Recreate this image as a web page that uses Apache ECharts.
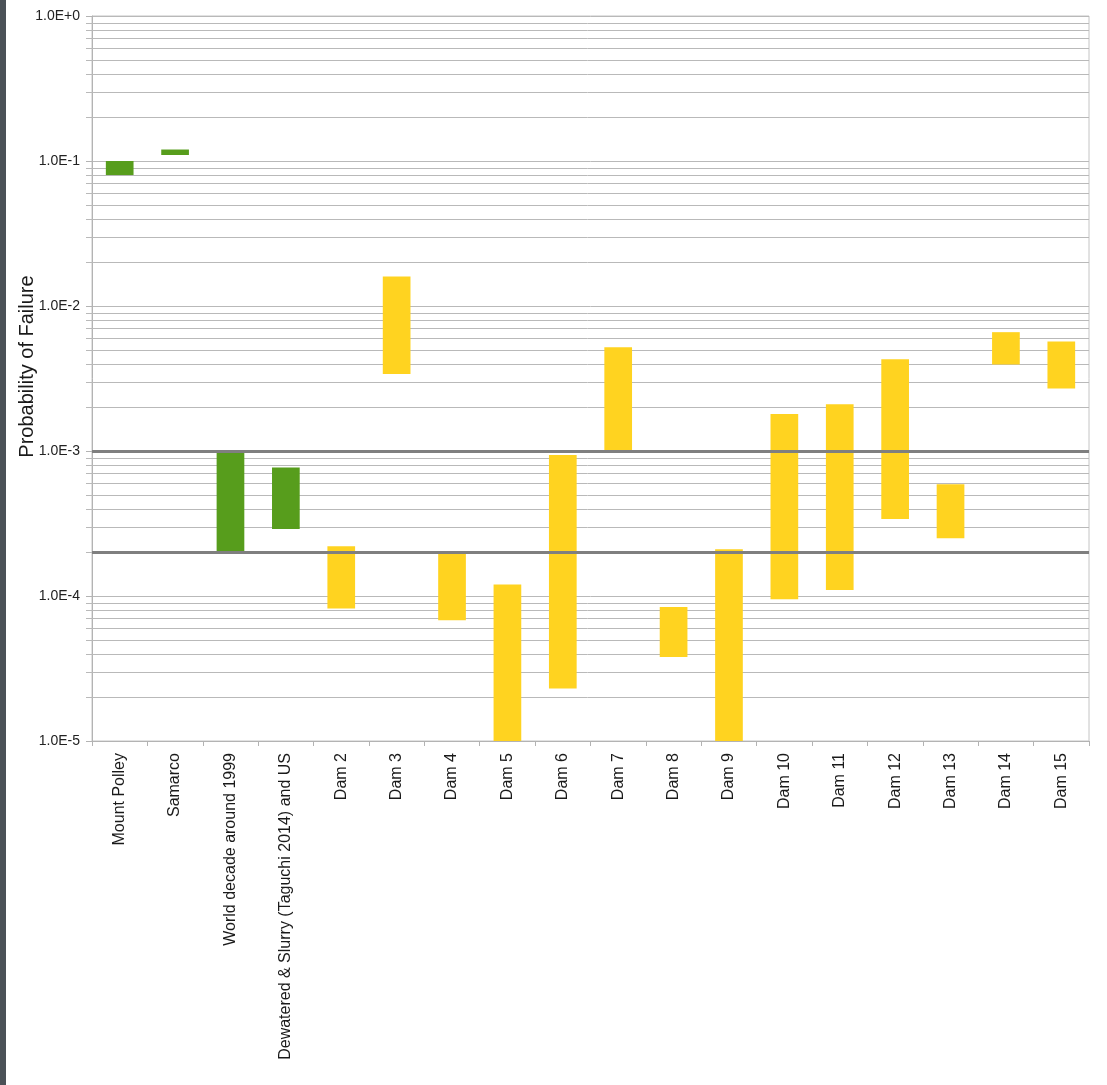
<!DOCTYPE html>
<html>
<head>
<meta charset="utf-8">
<title>Probability of Failure</title>
<script src="https://cdn.jsdelivr.net/npm/echarts@6/dist/echarts.min.js"></script>
<style>
  html, body { margin: 0; padding: 0; background: #ffffff; }
  #wrap { position: relative; width: 1107px; height: 1085px; }
  #strip { position: absolute; left: 0; top: 0; width: 6px; height: 1085px; background: #4b5157; z-index: 2; }
  #chart { position: absolute; left: 0; top: 0; width: 1107px; height: 1085px; }
</style>
</head>
<body>
<div id="wrap">
  <div id="chart"></div>
  <div id="strip"></div>
</div>
<script>
// Categories along the x axis
const categories = [
  'Mount Polley', 'Samarco', 'World decade around 1999',
  'Dewatered & Slurry (Taguchi 2014) and US',
  'Dam 2', 'Dam 3', 'Dam 4', 'Dam 5', 'Dam 6', 'Dam 7', 'Dam 8', 'Dam 9',
  'Dam 10', 'Dam 11', 'Dam 12', 'Dam 13', 'Dam 14', 'Dam 15'
];

// Lower and upper bound of the probability of failure per category
const lowValues = [
  0.08, 0.11, 2.0e-4, 2.9e-4,
  8.2e-5, 3.4e-3, 6.8e-5, 1.0e-5, 2.3e-5, 1.0e-3, 3.8e-5, 1.0e-5,
  9.5e-5, 1.1e-4, 3.4e-4, 2.5e-4, 3.95e-3, 2.7e-3
];
const highValues = [
  0.10, 0.12, 1.0e-3, 7.7e-4,
  2.2e-4, 1.6e-2, 2.0e-4, 1.2e-4, 9.4e-4, 5.2e-3, 8.4e-5, 2.1e-4,
  1.8e-3, 2.1e-3, 4.3e-3, 5.9e-4, 6.6e-3, 5.7e-3
];

// Group of each category: 0 = reference cases, 1 = individual dams
const groups = [0, 0, 0, 0, 1, 1, 1, 1, 1, 1, 1, 1, 1, 1, 1, 1, 1, 1];
const groupColors = ['#579d1c', '#ffd320'];

// Tolerability thresholds drawn across the plot
const thresholds = [1.0e-3, 2.0e-4];

// Log axis: decades and their labels, plus the 2..9 minor gridlines
const yTickLabels = ['1.0E-5', '1.0E-4', '1.0E-3', '1.0E-2', '1.0E-1', '1.0E+0'];
const decades = [1e-5, 1e-4, 1e-3, 1e-2, 1e-1];
const minorSteps = [2, 3, 4, 5, 6, 7, 8, 9];

const minorValues = [];
decades.forEach(d => minorSteps.forEach(s => minorValues.push([0, d * s])));

const rangeData = categories.map((c, i) => [i, lowValues[i], highValues[i], groups[i]]);
const thresholdData = thresholds.map(t => [0, t]);

const chart = echarts.init(document.getElementById('chart'), null, { renderer: 'canvas' });

const font = '"Liberation Sans", Arial, sans-serif';
const gridGray = '#b9b9b9';

// horizontal line across the whole plot at a y value
function hLine(extendLeft, color, width) {
  return (params, api) => {
    const cs = params.coordSys;
    let y = api.coord([0, api.value(1)])[1];
    if (width % 2 === 1) y = Math.round(y) + 0.5;
    return {
      type: 'line',
      shape: { x1: cs.x - extendLeft, y1: y, x2: cs.x + cs.width, y2: y },
      style: { stroke: color, lineWidth: width }
    };
  };
}

chart.setOption({
  animation: false,
  backgroundColor: '#ffffff',
  grid: {
    left: 92, top: 16, right: 18, bottom: 344,
    outerBoundsMode: 'none',
    containLabel: false,
    show: true, borderColor: '#c4c4c4', borderWidth: 1, backgroundColor: 'transparent'
  },
  xAxis: {
    type: 'category',
    data: categories,
    boundaryGap: true,
    axisLine: { lineStyle: { color: '#b3b3b3', width: 1 } },
    axisTick: { show: true, interval: 0, length: 5, lineStyle: { color: '#b3b3b3' } },
    axisLabel: {
      interval: 0, rotate: 90, margin: 12,
      fontFamily: font, fontSize: 16, color: '#1a1a1a'
    },
    splitLine: { show: false }
  },
  yAxis: {
    type: 'log',
    logBase: 10,
    min: 1e-5,
    max: 1,
    splitNumber: 5,
    name: 'Probability of Failure',
    nameLocation: 'middle',
    nameGap: 55,
    nameMoveOverlap: false,
    nameTextStyle: { fontFamily: font, fontSize: 20, color: '#1a1a1a', padding: [0, 0, 0, 24] },
    axisLine: { show: true, lineStyle: { color: '#b3b3b3', width: 1 } },
    axisTick: { show: true, length: 6, lineStyle: { color: '#b3b3b3' } },
    axisLabel: {
      margin: 12, fontFamily: font, fontSize: 14, color: '#222222',
      formatter: v => yTickLabels[Math.round(Math.log10(v)) + 5]
    },
    splitLine: { show: true, lineStyle: { color: gridGray, width: 1 } }
  },
  series: [
    {
      // minor gridlines with their short ticks left of the axis
      type: 'custom',
      name: 'minor grid',
      silent: true,
      z: 1,
      data: minorValues,
      encode: { x: 0, y: 1 },
      renderItem: hLine(6, gridGray, 1)
    },
    {
      // floating bars spanning the low-high probability range
      type: 'custom',
      name: 'range',
      z: 2,
      data: rangeData,
      encode: { x: 0, y: [1, 2] },
      renderItem: (params, api) => {
        const cs = params.coordSys;
        const band = cs.width / categories.length;
        const w = band * 0.5;
        const i = api.value(0);
        const lo = api.coord([i, api.value(1)]);
        const hi = api.coord([i, api.value(2)]);
        return {
          type: 'rect',
          shape: { x: lo[0] - w / 2, y: hi[1], width: w, height: lo[1] - hi[1] },
          style: { fill: groupColors[api.value(3)] }
        };
      }
    },
    {
      // threshold lines drawn over the bars
      type: 'custom',
      name: 'thresholds',
      silent: true,
      z: 3,
      data: thresholdData,
      encode: { x: 0, y: 1 },
      renderItem: hLine(0, '#7f7f7f', 3)
    }
  ]
});
</script>
</body>
</html>
